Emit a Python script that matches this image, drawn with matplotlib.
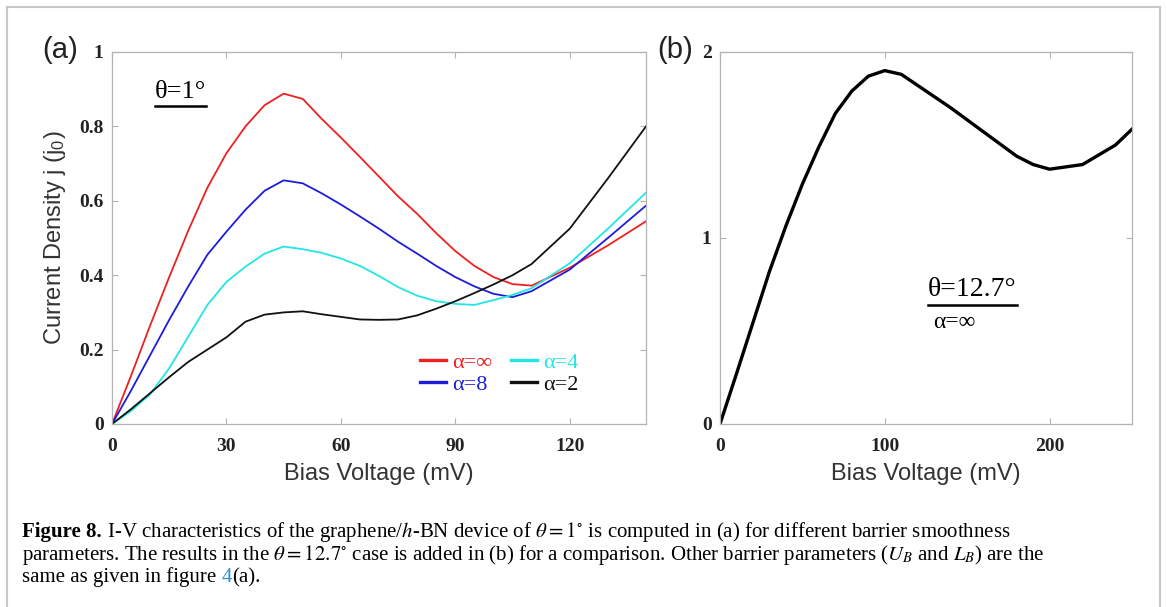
import numpy as np
import matplotlib
matplotlib.use("Agg")
import matplotlib.pyplot as plt
from matplotlib.lines import Line2D

plt.rcParams['mathtext.fontset'] = 'stix'

# ---------------------------------------------------------------
# Data: I-V curves, theta = 1 deg (a) and theta = 12.7 deg (b)
# ---------------------------------------------------------------
bias_a = [0, 5, 10, 15, 20, 25, 30, 35, 40, 45, 50, 55, 60, 65, 70,
          75, 80, 85, 90, 95, 100, 105, 110, 120, 130, 140]
j_inf = [0, 0.13, 0.265, 0.395, 0.52, 0.635, 0.728, 0.80, 0.857, 0.888,
         0.874, 0.82, 0.77, 0.718, 0.665, 0.612, 0.565, 0.513, 0.465,
         0.425, 0.395, 0.376, 0.372, 0.42, 0.48, 0.545]
j_a8 = [0, 0.09, 0.185, 0.28, 0.37, 0.455, 0.517, 0.576, 0.627, 0.655,
        0.647, 0.62, 0.59, 0.558, 0.525, 0.49, 0.458, 0.425, 0.395,
        0.37, 0.35, 0.341, 0.357, 0.415, 0.50, 0.587]
j_a4 = [0, 0.035, 0.08, 0.15, 0.235, 0.32, 0.382, 0.423, 0.458, 0.477,
        0.47, 0.46, 0.445, 0.425, 0.398, 0.368, 0.345, 0.33, 0.323,
        0.32, 0.333, 0.347, 0.365, 0.432, 0.525, 0.622]
j_a2 = [0, 0.04, 0.083, 0.126, 0.167, 0.2, 0.233, 0.275, 0.294, 0.30,
        0.303, 0.295, 0.288, 0.281, 0.28, 0.281, 0.292, 0.31, 0.33,
        0.352, 0.375, 0.40, 0.43, 0.525, 0.66, 0.80]
labels_a = ['α=∞', 'α=8', 'α=4', 'α=2']
colors_a = ['#ee2020', '#1c1cdc', '#22e6e6', '#111111']

bias_b = [0, 10, 20, 30, 40, 50, 60, 70, 80, 90, 100, 110, 120, 130,
          140, 150, 160, 170, 180, 190, 200, 220, 240, 250]
j_b = [0, 0.27, 0.545, 0.82, 1.065, 1.29, 1.49, 1.67, 1.79, 1.87, 1.90,
       1.88, 1.82, 1.76, 1.70, 1.635, 1.57, 1.505, 1.44, 1.395, 1.37,
       1.395, 1.50, 1.585]

W, H = 1167, 607
fig = plt.figure(figsize=(W / 100, H / 100), dpi=100)

def fx(px):
    return px / W

def fy(py):
    return 1 - py / H

serif = ['Liberation Serif', 'DejaVu Serif']
sans = ['Liberation Sans', 'DejaVu Sans']

def style_axes(ax):
    for s in ax.spines.values():
        s.set_color('#b4b4b4')
        s.set_linewidth(0.9)
    ax.tick_params(direction='in', length=4, width=0.8, color='#b4b4b4',
                   top=True, right=True, labelsize=14)
    for lab in ax.get_xticklabels() + ax.get_yticklabels():
        lab.set_family(serif)
        lab.set_fontweight('bold')
        lab.set_color('#222222')
    ax.tick_params(axis='x', pad=10)
    ax.tick_params(axis='y', pad=6)

# ---------------- panel (a) ----------------
ax1 = fig.add_axes([fx(112), fy(424), fx(646 - 112), (424 - 52) / H])
for jj, lab, c in zip([j_inf, j_a8, j_a4, j_a2], labels_a, colors_a):
    ax1.plot(bias_a, jj, color=c, lw=1.3, label=lab)
ax1.set_xlim(0, 140)
ax1.set_ylim(0, 1)
ax1.set_xticks([0, 30, 60, 90, 120])
ax1.set_xticklabels(['0', '30', '60', '90', '120'])
ax1.set_yticks([0, 0.2, 0.4, 0.6, 0.8, 1])
ax1.set_yticklabels(['0', '0.2', '0.4', '0.6', '0.8', '1'])
style_axes(ax1)
ax1.set_xlabel('Bias Voltage (mV)', family=sans, fontsize=17, color='#333333',
               labelpad=6)
ax1.set_ylabel('Current Density j (j$_\\mathregular{0}$)', family=sans,
               fontsize=17, color='#333333', labelpad=8)
leg = ax1.legend(loc='upper left', bbox_to_anchor=(0.577, 0.192), ncol=2,
                 frameon=False, prop={'family': serif, 'size': 16},
                 handlelength=1.15, handletextpad=0.3, columnspacing=0.85,
                 labelspacing=0.05, borderpad=0, borderaxespad=0,
                 labelcolor='linecolor')
for h in leg.legend_handles:
    h.set_linewidth(2.4)

# ---------------- panel (b) ----------------
ax2 = fig.add_axes([fx(720), fy(424), fx(1132 - 720), (424 - 52) / H])
ax2.plot(bias_b, j_b, color='black', lw=2.4)
ax2.set_xlim(0, 250)
ax2.set_ylim(0, 2)
ax2.set_xticks([0, 100, 200])
ax2.set_yticks([0, 1, 2])
ax2.set_yticklabels(['0', '1', '2'])
style_axes(ax2)
ax2.set_xlabel('Bias Voltage (mV)', family=sans, fontsize=17, color='#333333',
               labelpad=6)

# panel letters and annotations
fig.text(fx(60), fy(50), '(a)', family=sans, fontsize=21, color='#222222',
         ha='center', va='center')
fig.text(fx(675), fy(50), '(b)', family=sans, fontsize=21, color='#222222',
         ha='center', va='center')

renderer = fig.canvas.get_renderer()

def underline(t, gap=3):
    bb = t.get_window_extent(renderer)
    y = bb.y0 - gap
    fig.add_artist(Line2D([bb.x0 / W, bb.x1 / W], [y / H, y / H],
                          color='black', lw=1.8))

t1 = fig.text(fx(155), fy(98), 'θ=1°', family=serif, fontsize=19,
              color='black', ha='left', va='baseline')
underline(t1)
t2 = fig.text(fx(928), fy(296), 'θ=12.7°', family=serif, fontsize=20,
              color='black', ha='left', va='baseline')
underline(t2)
fig.text(fx(933), fy(328), 'α=∞', family=serif, fontsize=17, color='black',
         ha='left', va='baseline')

# ---------------- caption ----------------
cap_size = 15.0

def put_line(parts, x, y):
    for txt, kw in parts:
        t = fig.text(x / W, y, txt, fontsize=cap_size, ha='left',
                     va='baseline', family=serif, **kw)
        bb = t.get_window_extent(renderer)
        x = bb.x1

put_line([('Figure 8.', {'fontweight': 'bold'}),
          (' I-V characteristics of the graphene/$h$-BN device of '
           '$\\theta = 1^{\\circ}$ is computed in (a) for different barrier '
           'smoothness', {})], 22, fy(537))
put_line([('parameters. The results in the $\\theta = 12.7^{\\circ}$ case is '
           'added in (b) for a comparison. Other barrier parameters '
           '($U_B$ and $L_B$) are the', {})], 22, fy(560))
put_line([('same as given in figure ', {}), ('4', {'color': '#2a8fd0'}),
          ('(a).', {})], 22, fy(582))

# outer frame
frame_c = '#c8c8c8'
fig.add_artist(Line2D([fx(7), fx(7)], [fy(7), 0], color=frame_c, lw=1.5))
fig.add_artist(Line2D([fx(7), fx(1160)], [fy(7), fy(7)], color=frame_c, lw=1.5))
fig.add_artist(Line2D([fx(1160), fx(1160)], [fy(7), 0], color=frame_c, lw=1.5))

fig.savefig('out.png', dpi=100)
